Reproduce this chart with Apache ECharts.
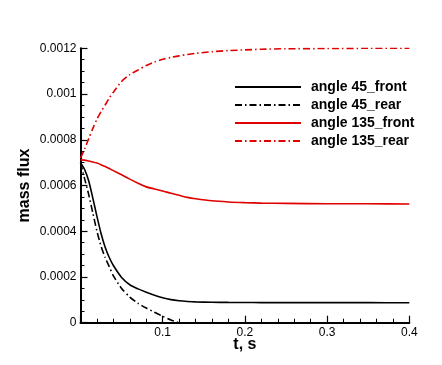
<!DOCTYPE html>
<html>
<head>
<meta charset="utf-8">
<script src="https://cdn.jsdelivr.net/npm/echarts@6/dist/echarts.min.js"></script>
<style>
  html, body { margin: 0; padding: 0; background: #fff; }
  #chart { width: 442px; height: 365px; }
</style>
</head>
<body>
<div id="chart"></div>
<script>
// time samples (s)
const times = [0, 0.005, 0.01, 0.015, 0.02, 0.025, 0.03, 0.035, 0.04, 0.05, 0.06, 0.07, 0.08, 0.09,
  0.1, 0.11, 0.12, 0.13, 0.14, 0.16, 0.18, 0.2, 0.22, 0.25, 0.3, 0.35, 0.4]

// mass flux
const front45 = [0.000700, 0.000670, 0.000620, 0.000545, 0.000465, 0.000390, 0.000330, 0.000285, 0.000250,
  0.000198, 0.000166, 0.000148, 0.000133, 0.000120, 0.000109, 0.000101, 0.000096, 0.000093, 0.000091,
  0.0000895, 0.0000888, 0.0000884, 0.000088, 0.000088, 0.0000878, 0.0000876, 0.0000875]
const rear45 = [0.000700, 0.000630, 0.000560, 0.000480, 0.000400, 0.000335, 0.000285, 0.000245, 0.000205,
  0.000150, 0.000112, 0.000085, 0.000064, 0.000046, 0.000028, 0.000012, 0.000000]
const front135 = [0.000712, 0.000711, 0.000707, 0.000703, 0.000698, 0.000691, 0.000683, 0.000674, 0.000665,
  0.000647, 0.000628, 0.000610, 0.000594, 0.000585, 0.000576, 0.000566, 0.000557, 0.000548, 0.000542,
  0.000533, 0.000528, 0.000525, 0.000523, 0.000522, 0.000520, 0.000520, 0.000519]
const rear135 = [0.000720, 0.000760, 0.000805, 0.000850, 0.000890, 0.000923, 0.000952, 0.000982, 0.001008,
  0.001055, 0.001085, 0.001105, 0.001125, 0.001140, 0.001152, 0.001160, 0.001167, 0.001173, 0.001178,
  0.001185, 0.001190, 0.001193, 0.001196, 0.001198, 0.001199, 0.001200, 0.001200]

const xTickLabels = ['', '0.1', '0.2', '0.3', '0.4']
const yTickLabels = ['0', '0.0002', '0.0004', '0.0006', '0.0008', '0.001', '0.0012']

const seriesNames = ['angle 45_front', 'angle 45_rear', 'angle 135_front', 'angle 135_rear']

const pair = (vals) => vals.map((v, i) => [times[i], v])

const dashDot = [7, 3, 1.5, 3]
const font = 'Liberation Sans'

const makeLine = (name, vals, color, type) => ({
  name,
  type: 'line',
  data: pair(vals),
  smooth: 0.25,
  symbol: 'none',
  lineStyle: { color, width: 1.6, type },
  itemStyle: { color }
})

const chart = echarts.init(document.getElementById('chart'))

chart.setOption({
  animation: false,
  backgroundColor: '#fff',
  textStyle: { fontFamily: font },
  grid: { left: 80.5, right: 32.7, top: 48.3, bottom: 42.3 },
  legend: {
    orient: 'vertical',
    left: 234,
    top: 80,
    padding: 0,
    itemWidth: 66,
    itemHeight: 14,
    itemGap: 4,
    data: seriesNames,
    itemStyle: { opacity: 0 },
    textStyle: { fontFamily: font, fontWeight: 'bold', fontSize: 14, color: '#000', padding: [0, 0, 0, 5] }
  },
  xAxis: {
    type: 'value',
    min: 0,
    max: 0.4,
    interval: 0.1,
    name: 't, s',
    nameLocation: 'middle',
    nameGap: 14,
    nameMoveOverlap: false,
    nameTextStyle: { fontFamily: font, fontWeight: 'bold', fontSize: 16, color: '#000' },
    axisLine: { lineStyle: { color: '#000', width: 2 } },
    axisTick: { inside: true, length: 7, lineStyle: { color: '#000', width: 1.2 } },
    minorTick: { show: true, splitNumber: 5, length: 4, lineStyle: { color: '#000', width: 1 } },
    splitLine: { show: false },
    axisLabel: {
      margin: 4,
      fontSize: 12,
      color: '#000',
      formatter: (v) => xTickLabels[Math.round(v / 0.1)]
    }
  },
  yAxis: {
    type: 'value',
    min: 0,
    max: 0.0012,
    interval: 0.0002,
    name: 'mass flux',
    nameLocation: 'middle',
    nameGap: 48,
    nameMoveOverlap: false,
    nameTextStyle: { fontFamily: font, fontWeight: 'bold', fontSize: 16, color: '#000' },
    axisLine: { show: true, lineStyle: { color: '#000', width: 2 } },
    axisTick: { show: true, inside: true, length: 7, lineStyle: { color: '#000', width: 1.2 } },
    minorTick: { show: true, splitNumber: 4, length: 4, lineStyle: { color: '#000', width: 1 } },
    splitLine: { show: false },
    axisLabel: {
      margin: 4,
      fontSize: 12,
      color: '#000',
      formatter: (v) => yTickLabels[Math.round(v / 0.0002)]
    }
  },
  series: [
    makeLine(seriesNames[0], front45, '#000', 'solid'),
    makeLine(seriesNames[1], rear45, '#000', dashDot),
    makeLine(seriesNames[2], front135, '#e00000', 'solid'),
    makeLine(seriesNames[3], rear135, '#e00000', dashDot)
  ]
})
</script>
</body>
</html>
